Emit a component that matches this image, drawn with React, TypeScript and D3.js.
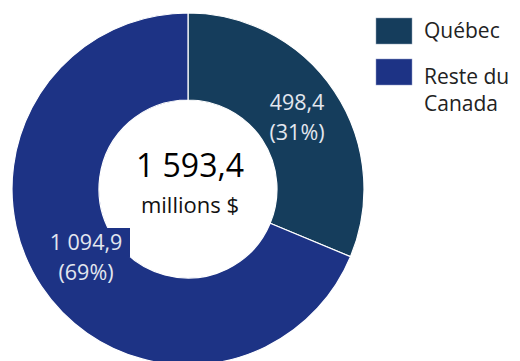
import React from "react";
import * as d3 from "d3";

const categories = ["Québec", "Reste du Canada"];
const values = [498.4, 1094.9];
const valueLabels = ["498,4", "1 094,9"];
const pctLabels = ["(31%)", "(69%)"];
const totalLabel = "1 593,4";
const unitLabel = "millions $";
const colors = ["#153D5C", "#1D3385"];

export default function App() {
  const W = 520, H = 361;
  const cx = 188, cy = 189, R = 176, r = 89;
  const pie = d3.pie<number>().sort(null).value((d) => d);
  const arcs = pie(values);
  const arc = d3.arc<d3.PieArcDatum<number>>().innerRadius(r).outerRadius(R);
  const font = "'Open Sans', 'Noto Sans', sans-serif";
  const labelPos = [
    { x: 297, y: 110 },
    { x: 86, y: 250 },
  ];
  return (
    <svg width={W} height={H} style={{ position: "absolute", left: 0, top: 0 }} fontFamily={font}>
      <rect width={W} height={H} fill="#fff" />
      <g transform={`translate(${cx},${cy})`}>
        {arcs.map((a, i) => (
          <path key={i} d={arc(a) || ""} fill={colors[i]} stroke="#fff" strokeWidth={1.2} />
        ))}
      </g>
      <rect x={40} y={228} width={90} height={29} fill={colors[1]} />
      {labelPos.map((p, i) => (
        <g key={i} fill="#E3E7EF" fontSize={21.5} textAnchor="middle">
          <text x={p.x} y={p.y}>{valueLabels[i]}</text>
          <text x={p.x} y={p.y + 30}>{pctLabels[i]}</text>
        </g>
      ))}
      <text x={cx + 2} y={177} textAnchor="middle" fontSize={32} fill="#000">{totalLabel}</text>
      <text x={cx + 2} y={213} textAnchor="middle" fontSize={22} fill="#111">{unitLabel}</text>
      <rect x={376} y={18} width={36} height={26} fill={colors[0]} stroke="#8fa0b5" strokeWidth={0.5} />
      <rect x={376} y={59} width={36} height={26} fill={colors[1]} stroke="#8f98c5" strokeWidth={0.5} />
      <g fontSize={21} fill="#222">
        <text x={424} y={38}>{categories[0]}</text>
        <text x={424} y={84}>Reste du</text>
        <text x={424} y={111}>Canada</text>
      </g>
    </svg>
  );
}
